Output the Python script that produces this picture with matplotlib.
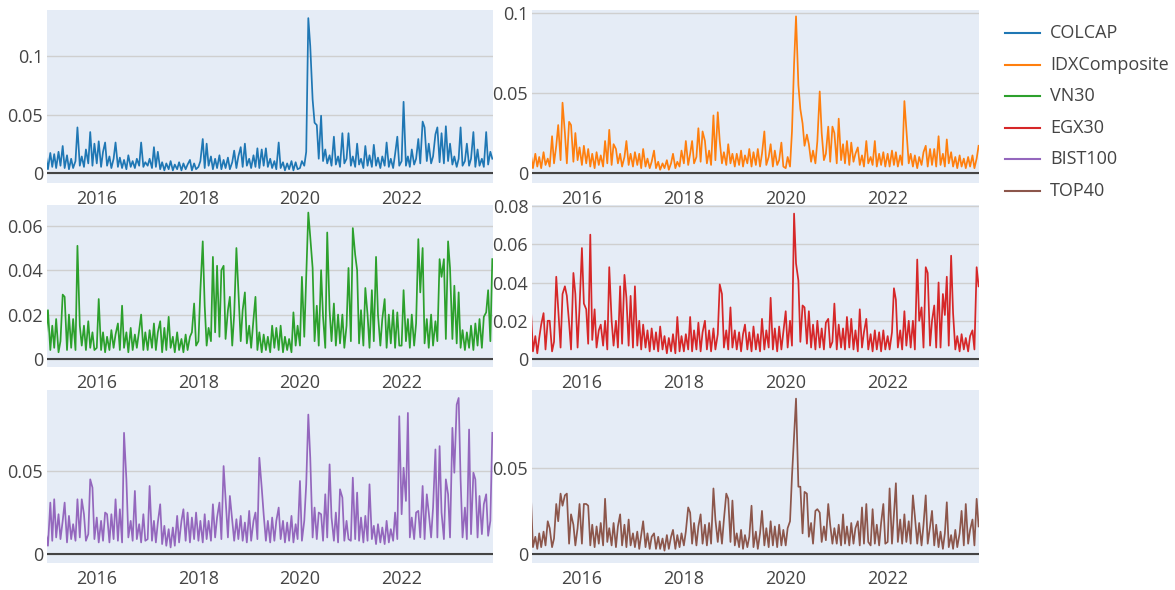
import numpy as np
import pandas as pd
import matplotlib
matplotlib.use('Agg')
import matplotlib.pyplot as plt
from matplotlib.lines import Line2D
from matplotlib.ticker import FuncFormatter

plt.rcParams['font.family'] = ['Open Sans', 'DejaVu Sans']

# two readings per month (1st, 15th), values in thousandths
dates = pd.date_range('2015-01-01', '2023-10-15', freq='SMS')

colcap = [14,3,17,5,16,4,18,6,23,4,15,3, 12,4,10,39,6,14,5,20,8,35,6,25,
          8,27,5,18,26,6,14,4,12,26,5,13, 4,11,3,15,5,10,4,12,6,26,5,9,
          6,12,4,22,5,18,3,9,2,8,3,10, 2,7,3,9,2,8,3,7,11,2,8,3,
          5,10,29,4,25,6,14,3,12,4,15,3, 11,4,13,3,9,19,4,14,22,5,25,6,
          12,4,15,5,21,4,20,6,21,5,12,4, 10,3,26,4,9,2,8,3,10,2,9,3,
          4,10,6,18,133,109,63,43,41,12,49,10, 20,8,15,6,31,7,14,5,34,8,12,34,
          6,14,5,25,7,12,4,23,6,15,5,24, 6,13,4,14,6,26,5,12,4,16,31,6,
          10,61,6,14,5,20,7,12,29,8,44,39, 10,25,8,14,33,39,9,34,8,40,10,25,
          7,14,5,12,39,6,10,25,6,12,35,5, 20,6,12,5,35,7,18,12]

idx = [11,3,12,4,10,3,13,5,9,4,23,6, 17,30,8,44,25,6,32,30,7,25,8,16,
       5,17,6,15,4,12,3,13,5,11,4,20, 6,27,5,18,15,6,12,4,10,20,5,12,
       4,13,5,12,3,15,4,9,3,7,14,3, 7,2,6,3,8,2,6,12,3,7,4,14,
       6,20,5,12,20,6,10,28,7,26,20,6, 14,5,36,8,38,20,6,13,5,18,6,12,
       4,12,5,14,4,11,6,15,4,13,5,15, 4,12,26,5,10,18,4,14,5,8,19,4,
       3,10,4,26,68,98,55,40,31,17,24,18, 7,14,6,20,51,25,8,12,29,7,29,25,
       6,34,8,18,6,20,5,19,7,12,16,5, 11,4,20,6,10,5,20,4,12,5,13,4,
       12,4,14,5,13,4,11,5,45,27,6,12, 4,11,3,10,5,13,17,4,15,5,15,4,
       23,5,12,4,21,6,13,4,10,3,11,4, 9,3,10,4,11,3,9,17]

vn30 = [11,22,4,15,5,18,3,8,29,28,4,20, 5,18,4,51,15,6,15,4,17,5,12,4,
        5,27,4,12,3,10,4,13,5,11,16,4, 24,5,12,3,14,4,11,5,13,20,4,12,
        4,13,5,16,4,12,17,3,14,4,19,5, 10,3,12,4,9,3,11,4,10,12,25,6,
        8,31,53,24,6,14,8,46,12,42,10,40, 42,9,22,28,6,20,50,31,8,22,30,7,
        15,5,18,28,4,12,3,11,4,10,3,15, 5,14,4,15,3,10,4,9,3,21,6,15,
        6,37,10,37,66,55,41,8,24,6,40,19, 5,57,22,8,25,6,20,7,20,5,15,41,
        8,59,47,40,7,22,6,32,20,5,31,8, 46,20,6,18,27,5,20,7,22,5,21,6,
        6,31,8,18,5,20,6,16,54,30,50,7, 18,5,20,6,17,8,45,37,45,9,53,41,
        9,33,7,30,5,13,4,12,5,15,4,16, 6,18,5,19,21,31,8,45]

egx30 = [25,4,12,3,11,18,24,5,20,20,4,9, 43,26,6,34,38,33,19,5,45,34,6,27,
         58,29,26,8,65,10,26,6,15,18,7,20, 5,48,20,7,20,6,38,8,44,32,7,33,
         6,38,7,20,5,18,6,15,4,16,5,14, 4,17,5,12,3,11,4,13,3,22,4,12,
         4,13,5,22,4,15,5,19,4,14,20,5, 15,4,16,5,13,39,34,6,15,5,27,6,
         15,5,14,4,13,18,5,14,4,17,5,13, 4,21,5,15,6,32,5,16,4,17,5,14,
         25,6,20,7,76,50,41,9,28,27,8,25, 6,18,5,20,6,16,5,19,21,6,9,29,
         5,18,6,16,5,22,6,21,5,15,4,26, 6,14,21,5,13,4,15,5,14,4,15,5,
         12,5,14,37,31,6,15,5,25,7,20,6, 20,5,52,20,27,6,48,45,7,20,28,6,
         40,6,34,23,43,7,54,24,5,12,4,13, 5,11,4,12,15,5,48,38]

bist100 = [12,5,31,8,33,10,24,9,20,31,7,23, 9,18,8,33,10,33,24,8,12,45,40,9,
           22,7,20,8,25,24,7,24,9,33,8,27, 7,73,45,10,20,8,38,9,18,7,24,8,
           9,41,8,20,7,19,30,6,17,5,15,4, 16,5,23,7,20,27,8,25,7,22,9,25,
           8,20,7,24,9,20,8,30,10,22,31,9, 53,34,10,35,20,8,21,9,23,8,19,7,
           26,8,20,25,9,58,40,24,8,20,7,22, 8,20,28,9,20,7,19,8,23,7,18,9,
           44,8,20,42,84,58,10,28,9,25,24,8, 36,10,54,22,8,25,7,39,34,8,20,9,
           8,46,9,37,8,22,7,23,8,42,9,17, 6,18,7,16,6,20,7,15,8,25,9,83,
           24,52,32,85,10,22,9,25,26,10,41,9, 36,25,10,28,63,10,65,25,9,45,36,10,
           76,49,90,94,45,10,28,9,75,12,49,45, 10,35,12,30,36,11,20,73]

top40 = [32,4,10,3,12,4,13,5,19,15,4,9, 29,19,35,28,34,35,6,23,17,5,15,29,
         6,29,29,28,5,17,4,16,6,18,5,32, 7,15,5,18,4,16,23,5,17,4,20,5,
         12,4,13,3,11,19,4,12,3,10,12,3, 10,3,9,2,11,3,10,14,3,11,4,12,
         5,13,27,24,6,18,5,16,23,6,17,5, 18,6,38,20,7,19,6,20,35,32,7,31,
         5,12,4,14,3,11,4,10,28,4,13,3, 12,25,5,15,4,19,5,16,4,17,5,14,
         5,15,19,45,68,90,39,39,12,36,35,10, 18,6,25,26,24,7,16,8,29,17,6,15,
         6,17,5,23,6,16,5,18,6,15,19,5, 27,6,29,7,5,26,6,17,5,18,29,6,
         7,38,6,23,41,7,20,6,23,7,19,6, 34,22,6,18,5,17,34,6,16,25,5,17,
         4,13,3,12,30,4,11,3,14,4,12,25, 5,29,6,14,20,5,32,16]

names = ['COLCAP', 'IDXComposite', 'VN30', 'EGX30', 'BIST100', 'TOP40']
series = [colcap, idx, vn30, egx30, bist100, top40]
colors = ['#1f77b4', '#ff7f0e', '#2ca02c', '#d62728', '#9467bd', '#8c564b']
y_ticks = [[0, 0.05, 0.1], [0, 0.05, 0.1], [0, 0.02, 0.04, 0.06],
           [0, 0.02, 0.04, 0.06, 0.08], [0, 0.05], [0, 0.05]]
y_lims = [(-0.0086, 0.14), (-0.0061, 0.102), (-0.0035, 0.0694),
          (-0.004, 0.0805), (-0.0052, 0.0988), (-0.005, 0.095)]
x_years = [2016, 2018, 2020, 2022]

W, H = 1175, 590
fig = plt.figure(figsize=(W / 100, H / 100), dpi=100)

cols = [(46.7, 493.0), (531.7, 979.3)]
rows = [(10, 182.7), (205, 366.7), (390, 562.7)]
txt = '#444444'

for k in range(6):
    r, c = divmod(k, 2)
    x0, x1 = cols[c]
    y0, y1 = rows[r]
    ax = fig.add_axes([x0 / W, 1 - y1 / H, (x1 - x0) / W, (y1 - y0) / H])
    ax.set_facecolor('#E5ECF6')
    ax.plot(dates, np.array(series[k]) / 1000.0, color=colors[k], lw=1.25, zorder=3)
    ax.axhline(0, color='#444444', lw=1.5, zorder=2)
    ax.set_xlim(pd.Timestamp('2015-01-06'), pd.Timestamp('2023-10-20'))
    ax.set_ylim(*y_lims[k])
    ax.set_yticks(y_ticks[k])
    ax.yaxis.set_major_formatter(FuncFormatter(lambda v, p: f'{v:g}'))
    ax.set_xticks([pd.Timestamp(f'{y}-01-01') for y in x_years])
    ax.set_xticklabels([str(y) for y in x_years])
    ax.yaxis.grid(True, color='#cfcfcf', lw=1.0)
    ax.set_axisbelow(True)
    for s in ax.spines.values():
        s.set_visible(False)
    ax.tick_params(axis='both', length=0, labelsize=13, colors=txt)
    ax.tick_params(axis='x', pad=5.5)
    ax.tick_params(axis='y', pad=2.5)

# legend
for i, name in enumerate(names):
    yy = 1 - (33 + i * 31.6) / H
    fig.add_artist(Line2D([1005 / W, 1040 / W], [yy, yy], color=colors[i], lw=1.5))
    fig.text(1050 / W, yy, name, va='center', ha='left', fontsize=13, color=txt)

fig.savefig('out.png', dpi=100)
